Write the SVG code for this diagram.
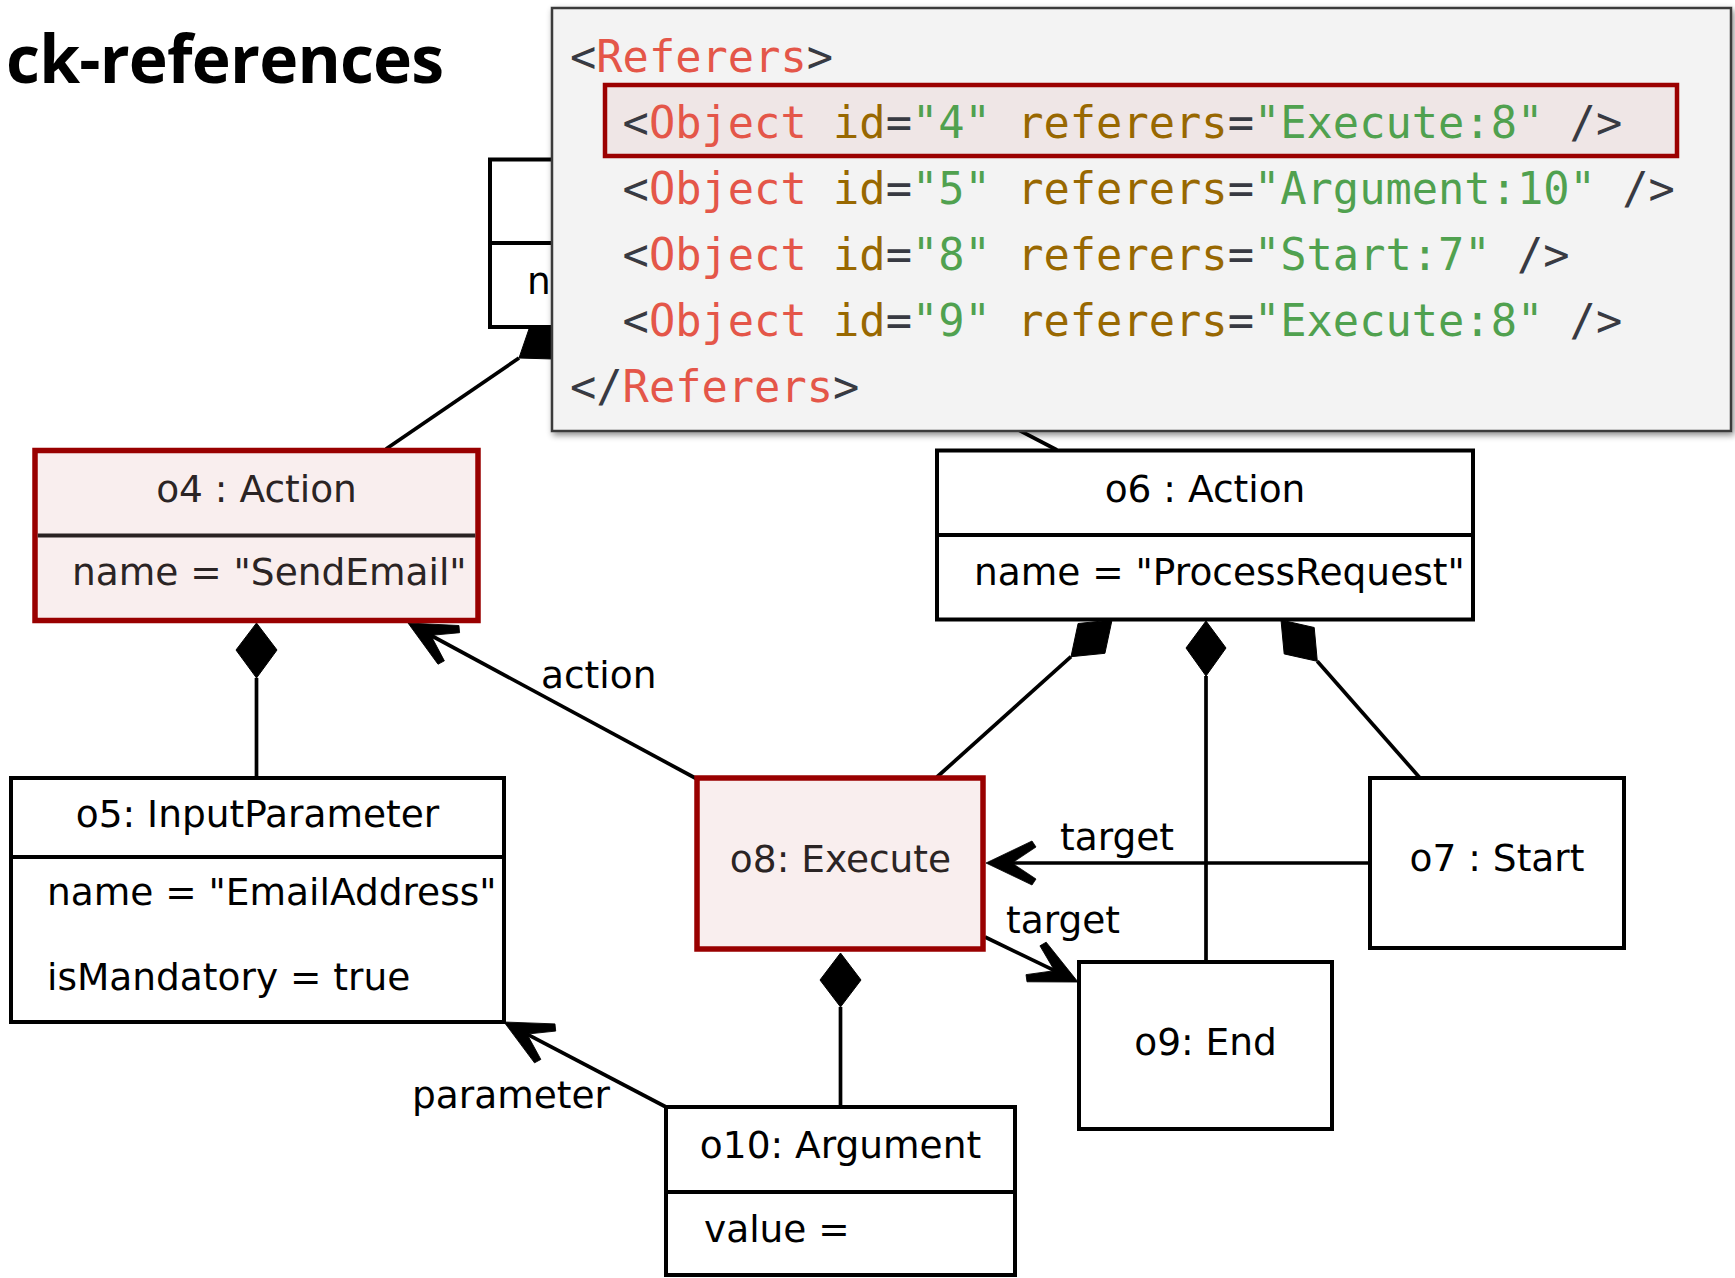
<svg xmlns="http://www.w3.org/2000/svg" width="1735" height="1278" viewBox="0 0 1735 1278">
<defs>
<style>
.box{fill:#fff;stroke:#000;stroke-width:4}
.hl{fill:#f9eeee;stroke:#990000;stroke-width:5.5}
.dv{stroke:#000;stroke-width:4}
.hdv{stroke:#2a2222;stroke-width:4}
.t{font-family:"DejaVu Sans",Verdana,sans-serif;font-size:37.5px;fill:#000}
.th{fill:#2b2424}
.mid{text-anchor:middle}
.ln{stroke:#000;stroke-width:3.7;fill:none}
.ah{fill:#000;stroke:#000;stroke-width:0.8;stroke-linejoin:round}
.dia{fill:#000;stroke:#000;stroke-width:1}
.code{font-family:"DejaVu Sans Mono","Liberation Mono",monospace;font-size:43.7px}
.p{fill:#383a42}.tag{fill:#e45649}.att{fill:#986801}.str{fill:#50a14f}
.title{font-family:"Open Sans","Noto Sans",sans-serif;font-weight:700;font-size:66px;letter-spacing:-0.8px;fill:#000}
</style>
<path id="arrowhead" d="M0,0 L46,-22 L50,-16 L26,0 L50,16 L46,22 Z"/>
<filter id="shadow" x="-5%" y="-5%" width="110%" height="115%">
<feDropShadow dx="2" dy="3" stdDeviation="3" flood-color="#000" flood-opacity="0.45"/>
</filter>
</defs>
<rect width="1735" height="1278" fill="#fff"/>

<text class="title" x="6" y="83">ck-references</text>

<g id="hidden-node">
<rect class="box" x="490" y="159.5" width="120" height="167.5"/>
<line class="dv" x1="490" y1="243" x2="610" y2="243"/>
<text class="t" x="527" y="294">n</text>
</g>

<g id="connectors">
<line class="ln" x1="386" y1="449" x2="519" y2="358"/>
<polygon class="dia" points="564,327 553,359 519,358 530,326"/>
<line class="ln" x1="900" y1="368" x2="1057" y2="450"/>

<polygon class="dia" points="256.5,623 277,650 256.5,678 236,650"/>
<line class="ln" x1="256.5" y1="678" x2="256.5" y2="778"/>

<line class="ln" x1="697" y1="779" x2="420" y2="629.5"/>
<use href="#arrowhead" class="ah" transform="translate(408,623) rotate(28.4)"/>

<polygon class="dia" points="1112,620 1104.9,653.3 1071,656.7 1078.1,623.5"/>
<line class="ln" x1="1071" y1="656.7" x2="937" y2="777"/>

<polygon class="dia" points="1206,621 1226,648 1206,676 1186,648"/>
<line class="ln" x1="1206" y1="676" x2="1206" y2="962"/>

<polygon class="dia" points="1281,620 1314.2,627.5 1317.3,661.3 1284.2,653.9"/>
<line class="ln" x1="1317.3" y1="661.3" x2="1420" y2="778"/>

<line class="ln" x1="1370" y1="863" x2="1000" y2="863"/>
<use href="#arrowhead" class="ah" transform="translate(986,863)"/>

<line class="ln" x1="985" y1="937" x2="1066" y2="976.2"/>
<use href="#arrowhead" class="ah" transform="translate(1078,982) rotate(-154.2)"/>

<polygon class="dia" points="840.5,953 861,980 840.5,1007 820,980"/>
<line class="ln" x1="840.5" y1="1007" x2="840.5" y2="1107"/>

<line class="ln" x1="666" y1="1107" x2="516" y2="1028.3"/>
<use href="#arrowhead" class="ah" transform="translate(504,1022) rotate(27.7)"/>

<text class="t" x="541" y="688">action</text>
<text class="t" x="1060" y="850">target</text>
<text class="t" x="1006" y="933">target</text>
<text class="t" x="412" y="1108">parameter</text>
</g>

<g id="popup">
<rect x="552" y="8" width="1179" height="423" fill="#f3f3f3" stroke="#3a3a3a" stroke-width="2.5" filter="url(#shadow)"/>
<rect x="605" y="85" width="1072" height="71" fill="#efe6e6" stroke="#9b0000" stroke-width="4.5"/>
<text class="code" x="570" y="71.5"><tspan class="p">&lt;</tspan><tspan class="tag">Referers</tspan><tspan class="p">&gt;</tspan></text>
<text class="code" x="622.6" y="137.5"><tspan class="p">&lt;</tspan><tspan class="tag">Object</tspan> <tspan class="att">id</tspan><tspan class="p">=</tspan><tspan class="str">"4"</tspan> <tspan class="att">referers</tspan><tspan class="p">=</tspan><tspan class="str">"Execute:8"</tspan> <tspan class="p">/&gt;</tspan></text>
<text class="code" x="622.6" y="203.5"><tspan class="p">&lt;</tspan><tspan class="tag">Object</tspan> <tspan class="att">id</tspan><tspan class="p">=</tspan><tspan class="str">"5"</tspan> <tspan class="att">referers</tspan><tspan class="p">=</tspan><tspan class="str">"Argument:10"</tspan> <tspan class="p">/&gt;</tspan></text>
<text class="code" x="622.6" y="269.5"><tspan class="p">&lt;</tspan><tspan class="tag">Object</tspan> <tspan class="att">id</tspan><tspan class="p">=</tspan><tspan class="str">"8"</tspan> <tspan class="att">referers</tspan><tspan class="p">=</tspan><tspan class="str">"Start:7"</tspan> <tspan class="p">/&gt;</tspan></text>
<text class="code" x="622.6" y="335.5"><tspan class="p">&lt;</tspan><tspan class="tag">Object</tspan> <tspan class="att">id</tspan><tspan class="p">=</tspan><tspan class="str">"9"</tspan> <tspan class="att">referers</tspan><tspan class="p">=</tspan><tspan class="str">"Execute:8"</tspan> <tspan class="p">/&gt;</tspan></text>
<text class="code" x="570" y="401.5"><tspan class="p">&lt;/</tspan><tspan class="tag">Referers</tspan><tspan class="p">&gt;</tspan></text>
</g>

<g id="o4">
<rect class="hl" x="35" y="450.5" width="443" height="170"/>
<line class="hdv" x1="37.75" y1="535.5" x2="475.25" y2="535.5"/>
<text class="t th mid" x="256.5" y="502">o4 : Action</text>
<text class="t th" x="72" y="585">name = "SendEmail"</text>
</g>

<g id="o6">
<rect class="box" x="937" y="450.5" width="536" height="169"/>
<line class="dv" x1="937" y1="535" x2="1473" y2="535"/>
<text class="t mid" x="1205" y="502">o6 : Action</text>
<text class="t" x="974" y="585">name = "ProcessRequest"</text>
</g>

<g id="o5">
<rect class="box" x="11" y="778" width="493" height="244"/>
<line class="dv" x1="11" y1="857" x2="504" y2="857"/>
<text class="t mid" x="257.5" y="827">o5: InputParameter</text>
<text class="t" x="47" y="905">name = "EmailAddress"</text>
<text class="t" x="47" y="990">isMandatory = true</text>
</g>

<g id="o8">
<rect class="hl" x="697" y="778" width="286" height="171"/>
<text class="t th mid" x="840.5" y="872">o8: Execute</text>
</g>

<g id="o7">
<rect class="box" x="1370" y="778" width="254" height="170"/>
<text class="t mid" x="1497" y="871">o7 : Start</text>
</g>

<g id="o9">
<rect class="box" x="1079" y="962" width="253" height="167"/>
<text class="t mid" x="1205.5" y="1055">o9: End</text>
</g>

<g id="o10">
<rect class="box" x="666" y="1107" width="349" height="168"/>
<line class="dv" x1="666" y1="1192" x2="1015" y2="1192"/>
<text class="t mid" x="840.5" y="1158">o10: Argument</text>
<text class="t" x="704" y="1242">value =</text>
</g>
</svg>
